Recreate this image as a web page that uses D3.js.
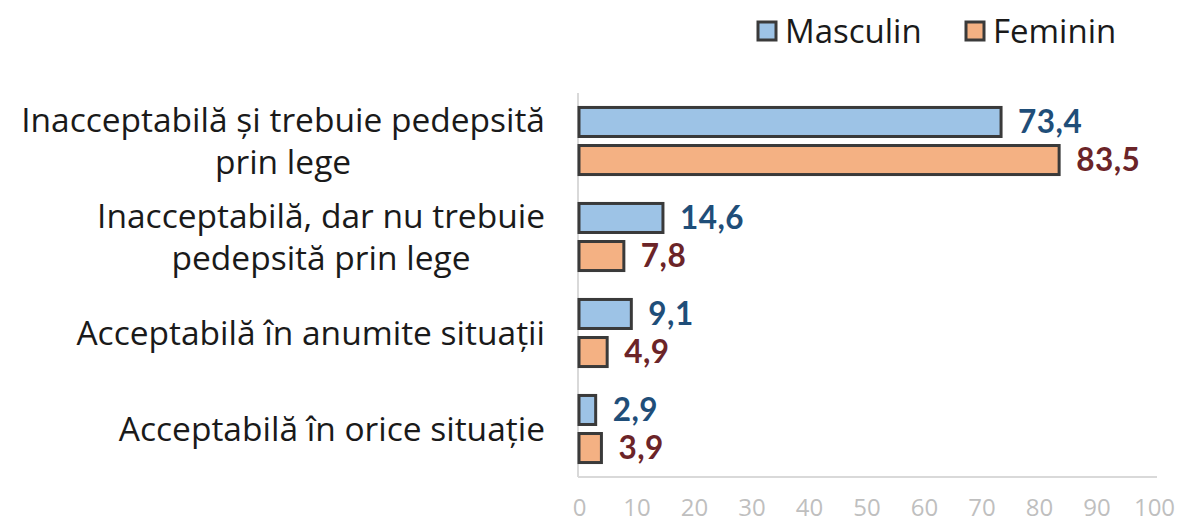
<!DOCTYPE html>
<html>
<head>
<meta charset="utf-8">
<script src="https://cdn.jsdelivr.net/npm/d3@7"></script>
<style>
  html, body { margin: 0; padding: 0; background: #fff; }
  svg { display: block; font-family: "Open Sans", "Noto Sans", sans-serif; }
</style>
</head>
<body>
<svg id="chart" width="1178" height="524"></svg>
<script>
const categories = [
  "Inacceptabilă și trebuie pedepsită prin lege",
  "Inacceptabilă, dar nu trebuie pedepsită prin lege",
  "Acceptabilă în anumite situații",
  "Acceptabilă în orice situație"
];
const categoryLines = [
  ["Inacceptabilă și trebuie pedepsită", "prin lege"],
  ["Inacceptabilă, dar nu trebuie", "pedepsită prin lege"],
  ["Acceptabilă în anumite situații"],
  ["Acceptabilă în orice situație"]
];
const seriesNames = ["Masculin", "Feminin"];
const masculin = [73.4, 14.6, 9.1, 2.9];
const feminin = [83.5, 7.8, 4.9, 3.9];
const tickValues = [0, 10, 20, 30, 40, 50, 60, 70, 80, 90, 100];

const fills = { Masculin: "#9DC3E6", Feminin: "#F4B183" };
const labelColors = { Masculin: "#1F4E79", Feminin: "#6B2428" };
const strokeColor = "#3A3A3A";

const svg = d3.select("#chart");
const plot = { left: 579, right: 1154, top: 93, bottom: 477 };

const x = d3.scaleLinear().domain([0, 100]).range([plot.left, plot.right]);
const y = d3.scaleBand().domain(categories).range([plot.top, plot.bottom]).paddingInner(0).paddingOuter(0);
const sub = d3.scaleBand().domain(seriesNames).range([0, y.bandwidth()])
  .paddingInner(0.237).paddingOuter(0.38);

const data = categories.map((c, i) => ({
  cat: c,
  values: [
    { s: "Masculin", v: masculin[i] },
    { s: "Feminin", v: feminin[i] }
  ]
}));

// X axis
const xAxis = svg.append("g")
  .attr("transform", `translate(0,${plot.bottom})`)
  .call(d3.axisBottom(x).tickValues(tickValues).tickSize(0).tickPadding(22).tickFormat(d3.format("d")));
xAxis.select(".domain").attr("stroke", "#D9D9D9").attr("stroke-width", 2)
  .attr("d", `M${plot.left - 1},0H${plot.right + 3}`);
xAxis.selectAll("text").attr("fill", "#BFBFBF").attr("font-size", 24)
  .attr("font-family", "'Open Sans', sans-serif");

// Y axis line
svg.append("line")
  .attr("x1", plot.left - 1).attr("x2", plot.left - 1)
  .attr("y1", plot.top).attr("y2", plot.bottom)
  .attr("stroke", "#D9D9D9").attr("stroke-width", 2);

// Bars
const groups = svg.selectAll("g.cat").data(data).join("g")
  .attr("class", "cat")
  .attr("transform", d => `translate(0,${y(d.cat)})`);

groups.selectAll("rect").data(d => d.values).join("rect")
  .attr("x", x(0))
  .attr("y", d => sub(d.s))
  .attr("width", d => x(d.v) - x(0))
  .attr("height", sub.bandwidth())
  .attr("fill", d => fills[d.s])
  .attr("stroke", strokeColor)
  .attr("stroke-width", 3);

groups.selectAll("text.val").data(d => d.values).join("text")
  .attr("class", "val")
  .attr("x", d => x(d.v) + 17)
  .attr("y", d => sub(d.s) + sub.bandwidth() / 2)
  .attr("dy", "0.36em")
  .attr("fill", d => labelColors[d.s])
  .attr("font-family", "Lato, 'Open Sans', sans-serif")
  .attr("font-weight", "bold")
  .attr("font-size", 31.5)
  .attr("letter-spacing", 0.5)
  .text(d => d3.format(".1f")(d.v).replace(".", ","));

// Category labels
const labelRight = 545;
const lineGap = 42;
categories.forEach((c, i) => {
  const lines = categoryLines[i];
  const cy = y(c) + y.bandwidth() / 2;
  const g = svg.append("g");
  const texts = lines.map((ln, j) => g.append("text")
    .attr("y", cy + (j - (lines.length - 1) / 2) * lineGap)
    .attr("dy", "0.35em")
    .attr("font-size", 33.5)
    .attr("fill", "#1A1A1A")
    .text(ln));
  const widths = texts.map(t => t.node().getComputedTextLength());
  const maxW = d3.max(widths);
  texts.forEach(t => t.attr("text-anchor", "middle").attr("x", labelRight - maxW / 2));
});

// Legend
const legend = svg.append("g");
const legendItems = [
  { s: "Masculin", x: 758 },
  { s: "Feminin", x: 966 }
];
legendItems.forEach(it => {
  legend.append("rect")
    .attr("x", it.x).attr("y", 22).attr("width", 18).attr("height", 18)
    .attr("fill", fills[it.s]).attr("stroke", strokeColor).attr("stroke-width", 3);
  legend.append("text")
    .attr("x", it.x + 27).attr("y", 31).attr("dy", "0.35em")
    .attr("font-size", 33).attr("fill", "#1A1A1A")
    .text(it.s);
});
</script>
</body>
</html>
